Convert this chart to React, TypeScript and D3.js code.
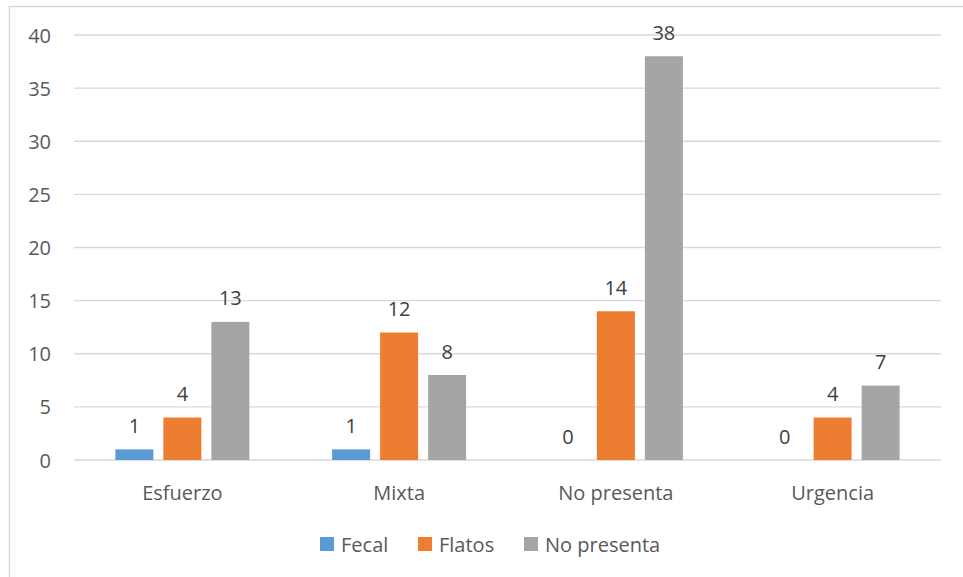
import React from "react";
import * as d3 from "d3";

const categories = ["Esfuerzo", "Mixta", "No presenta", "Urgencia"];
const seriesNames = ["Fecal", "Flatos", "No presenta"];
const fecal = [1, 1, 0, 0];
const flatos = [4, 12, 14, 4];
const noPresenta = [13, 8, 38, 7];
const yTicks = [0, 5, 10, 15, 20, 25, 30, 35, 40];

const colors = ["#5B9BD5", "#ED7D31", "#A5A5A5"];
const font = "'Open Sans', 'Liberation Sans', sans-serif";
const fs = 20;

export default function App() {
  const width = 963;
  const height = 577;
  const plot = { left: 74, right: 941, top: 35, bottom: 460 };
  const series = [fecal, flatos, noPresenta];

  const x = d3.scaleBand<string>().domain(categories).range([plot.left, plot.right]).padding(0);
  const y = d3.scaleLinear().domain([0, 40]).range([plot.bottom, plot.top]);
  const barW = 38;
  const step = 48;

  return (
    <svg width={width} height={height} style={{ position: "absolute", left: 0, top: 0 }}>
      <rect x={0} y={0} width={width} height={height} fill="#fff" />
      <rect x={9.5} y={6.5} width={width + 10} height={height + 10} fill="none" stroke="#D9D9D9" strokeWidth={1.5} />
      {yTicks.map((t) => (
        <g key={t}>
          <line x1={plot.left} x2={plot.right} y1={y(t)} y2={y(t)} stroke="#D9D9D9" strokeWidth={1.3} />
          <text x={51} y={y(t)} textAnchor="end" dominantBaseline="central" fontFamily={font} fontSize={fs} fill="#595959">
            {t}
          </text>
        </g>
      ))}
      {categories.map((c, i) => {
        const cx = (x(c) as number) + x.bandwidth() / 2;
        return (
          <g key={c}>
            {series.map((vals, s) => {
              const bx = cx + (s - 1) * step - barW / 2;
              const v = vals[i];
              return (
                <g key={s}>
                  <rect x={bx} y={y(v)} width={barW} height={y(0) - y(v)} fill={colors[s]} />
                  <text x={bx + barW / 2} y={y(v) - 24} textAnchor="middle" dominantBaseline="central" fontFamily={font} fontSize={fs} fill="#404040">
                    {v}
                  </text>
                </g>
              );
            })}
            <text x={cx} y={492} textAnchor="middle" dominantBaseline="central" fontFamily={font} fontSize={fs} fill="#595959">
              {c}
            </text>
          </g>
        );
      })}
      {seriesNames.map((n, s) => {
        const lx = [320, 418, 524][s];
        return (
          <g key={n}>
            <rect x={lx} y={537} width={14} height={14} fill={colors[s]} />
            <text x={lx + 21} y={544} dominantBaseline="central" fontFamily={font} fontSize={fs} fill="#595959">
              {n}
            </text>
          </g>
        );
      })}
    </svg>
  );
}
